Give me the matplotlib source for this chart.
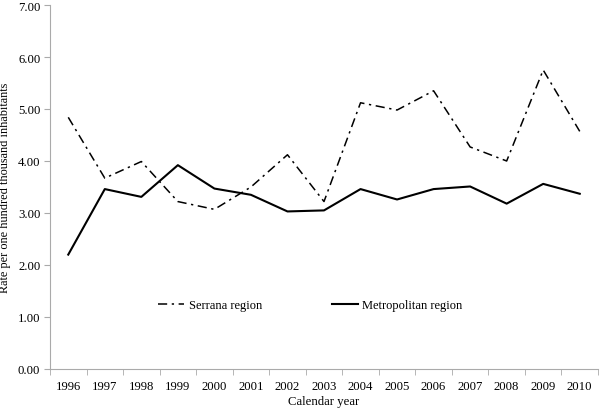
import numpy as np
import matplotlib
matplotlib.use("Agg")
import matplotlib.pyplot as plt

years = [str(y) for y in range(1996, 2011)]
serrana = [4.84, 3.67, 3.99, 3.22, 3.07, 3.50, 4.12, 3.22, 5.12, 4.98, 5.35, 4.27, 4.00, 5.75, 4.57]
metro = [2.20, 3.46, 3.31, 3.92, 3.47, 3.35, 3.03, 3.05, 3.46, 3.26, 3.46, 3.51, 3.18, 3.56, 3.37]

plt.rcParams["font.family"] = ["Liberation Serif", "DejaVu Serif"]

fig = plt.figure(figsize=(6, 4.14), dpi=100)
ax = fig.add_axes([50 / 600, 44 / 414, 548 / 600, 364 / 414])

x = np.arange(len(years))
ax.plot(x, serrana, color="black", lw=1.1, dashes=(6, 3, 1.5, 3), label="Serrana region")
ax.plot(x, metro, color="black", lw=1.5, label="Metropolitan region")

ax.set_xlim(-0.5, len(years) - 0.5)
ax.set_ylim(0, 7)
ax.set_yticks(np.arange(0, 8, 1))
ax.set_yticklabels([f"{v:.2f}" for v in range(8)], fontsize=9.2)
ax.set_xticks(x)
ax.set_xticklabels(years, fontsize=9.2)
ax.set_xticks(np.arange(-0.5, len(years), 1), minor=True)
ax.tick_params(axis="x", which="major", length=0, pad=8)
ax.tick_params(axis="x", which="minor", length=4, color="#aaaaaa")
ax.tick_params(axis="y", length=4, color="#aaaaaa", pad=3)

for s in ["top", "right"]:
    ax.spines[s].set_visible(False)
for s in ["left", "bottom"]:
    ax.spines[s].set_color("#aaaaaa")

ax.set_xlabel("Calendar year", fontsize=9.2, labelpad=2)
ax.set_ylabel("Rate per one hundred thousand inhabitants", fontsize=8.8, labelpad=5)

ax.legend(loc="center", bbox_to_anchor=(0.475, 0.176), ncol=2, frameon=False,
          fontsize=9, handlelength=2.1, handletextpad=0.35, columnspacing=5.6)

fig.savefig("out.png", dpi=100)
